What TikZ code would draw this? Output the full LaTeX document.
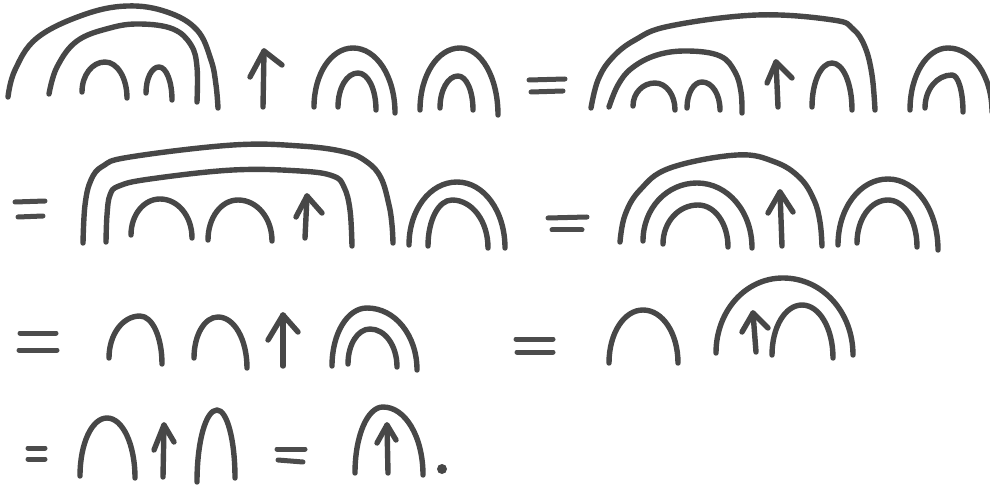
\documentclass[tikz,border=0pt]{standalone}
\usetikzlibrary{calc}
\tikzset{
  ink/.style={draw=black!72, line width=5.4pt, line cap=round, line join=round},
  eqline/.style={draw=black!70, line width=5pt, line cap=round},
  handarc/.style={ink, smooth, tension=0.65}
}
% \archk(Lx,Ly)(Tx,Ty)(Rx,Ry): a hand-drawn cap
\def\archk(#1,#2)(#3,#4)(#5,#6){%
  \draw[ink] (#1,#2) .. controls (#1,{#2-0.56*(#2-#4)}) and ({#3-0.56*(#3-#1)},#4) .. (#3,#4)
     .. controls ({#3+0.56*(#5-#3)},#4) and (#5,{#6-0.56*(#6-#4)}) .. (#5,#6);}
% \uparr(bottom)(tip)(leftwing)(rightwing)
\def\uparr(#1,#2)(#3,#4)(#5,#6)(#7,#8){%
  \draw[ink] (#1,#2) -- (#3,#4);
  \draw[ink] (#5,#6) -- (#3,#4) -- (#7,#8);}
\def\eqsign(#1,#2)(#3,#4)(#5,#6)(#7,#8){%
  \draw[eqline] (#1,#2) -- (#3,#4);
  \draw[eqline] (#5,#6) -- (#7,#8);}
\begin{document}
\begin{tikzpicture}[x=1pt,y=-1pt]
\path[use as bounding box, fill=white] (0,0) rectangle (990,486);

% ---------------- Row 1 ----------------
\draw[handarc] plot coordinates {(8,97) (15,70) (37,38) (83,15) (127,6) (167,12) (197,30) (211,60) (216,85) (218,108)};
\draw[handarc] plot coordinates {(49,94) (57,67) (77,41) (110,28) (140,24) (173,29) (191,45) (197,67) (197,102)};
\archk(82,92)(105,62)(127,98)
\archk(146,93)(159,67)(172,100)
\uparr(263,107)(264,51)(250,77)(282,65)
\archk(314,107)(353,48)(395,113)
\archk(338,107)(358,73)(376,110)
\archk(420,110)(460,48)(498,115)
\archk(440,108)(458,76)(473,110)

\eqsign(529,80)(565,79)(531,92)(563,91)

\draw[handarc] plot coordinates {(591,108) (598,80) (612,58) (635,40) (670,26) (757,15) (833,20) (853,29) (865,47) (872,75) (875,110)};
\draw[handarc] plot coordinates {(609,107) (618,85) (632,68) (657,55) (688,51) (720,56) (735,72) (741,92) (742,113)};
\archk(633,106)(655,83)(675,110)
\archk(687,108)(702,82)(720,110)
\uparr(778,107)(776,62)(767,83)(792,78)
\archk(812,107)(832,63)(852,110)
\archk(910,110)(948,48)(992,112)
\archk(925,108)(952,75)(963,112)

% ---------------- Row 2 ----------------
\eqsign(15,202)(45,201)(18,217)(43,216)
\draw[handarc] plot coordinates {(83,243) (85,205) (91,180) (103,166) (130,157) (233,145) (300,146) (345,152) (367,162) (381,178) (389,205) (392,225) (393,243)};
\draw[handarc] plot coordinates {(106,242) (107,215) (110,195) (119,186) (150,179) (233,170) (300,171) (333,176) (344,187) (350,210) (352,246)};
\archk(131,235)(160,199)(192,238)
\archk(208,240)(238,200)(272,241)
\uparr(305,238)(307,196)(296,217)(322,213)
\archk(409,245)(457,182)(505,248)
\archk(428,246)(452,200)(488,248)

\eqsign(548,218)(587,217)(552,230)(582,230)

\draw[handarc] plot coordinates {(620,242) (625,215) (640,190) (670,168) (737,155) (775,162) (800,178) (814,200) (820,222) (822,246)};
\archk(643,241)(697,183)(752,248)
\archk(663,244)(698,205)(728,247)
\uparr(782,246)(780,192)(768,213)(793,212)
\archk(838,245)(888,179)(938,250)
\archk(857,243)(888,200)(917,247)

% ---------------- Row 3 ----------------
\eqsign(20,333)(56,333)(19,350)(57,350)
\archk(109,358)(140,316)(162,364)
\archk(194,358)(218,317)(247,368)
\uparr(283,366)(283,315)(268,340)(298,332)
\archk(332,366)(367,308)(417,370)
\archk(348,364)(370,329)(397,367)

\eqsign(516,339)(553,339)(517,352)(553,352)
\archk(609,363)(643,310)(678,363)
\archk(716,353)(783,278)(853,355)
\uparr(756,352)(753,313)(742,332)(768,328)
\archk(772,355)(802,305)(833,358)

% ---------------- Row 4 ----------------
\eqsign(28,448)(45,448)(28,459)(45,459)
\archk(80,476)(107,418)(135,478)
\uparr(163,477)(164,425)(154,450)(174,442)
\archk(197,482)(217,410)(235,478)
\eqsign(277,449)(305,449)(278,460)(303,462)
\archk(355,473)(383,407)(423,475)
\uparr(388,473)(387,425)(377,443)(396,440)
\fill[black!72] (442,469) circle (5);
\end{tikzpicture}
\end{document}
